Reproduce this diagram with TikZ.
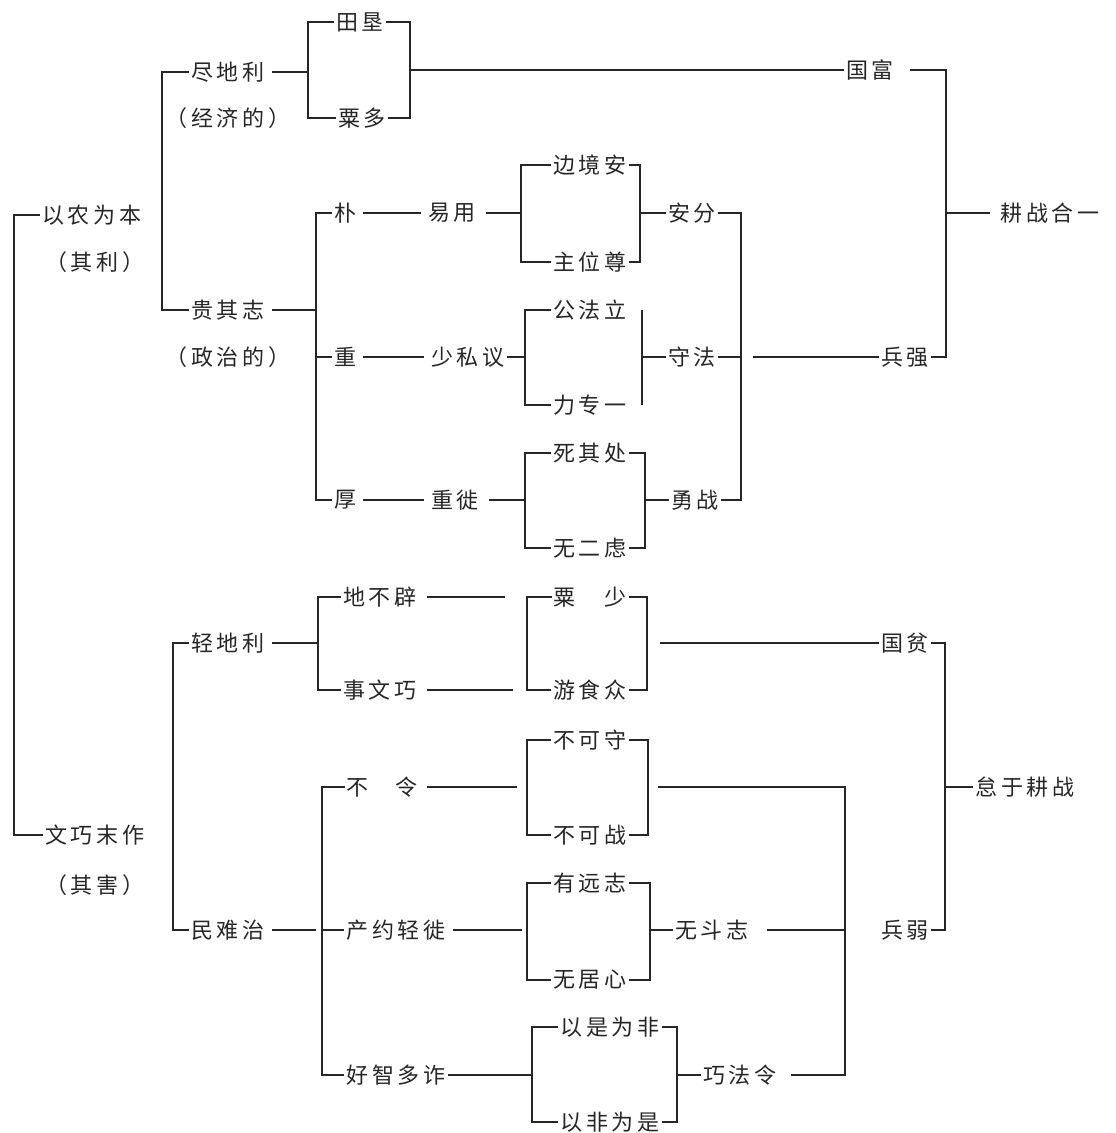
\documentclass[tikz,border=0pt]{standalone}
\usepackage{fontspec}
\newfontfamily\cjk{Noto Sans CJK SC}[LetterSpace=18]
\begin{document}
\begin{tikzpicture}[
    x=1pt, y=-1pt,
    item/.style={
        inner sep=2pt,
        font=\cjk\fontsize{22}{22}\selectfont,
        text=black!85
    },
    line/.style={
        draw=black!85,
        line width=1.6pt
    },
    link/.style={
        line,
        shorten <=5pt,
        shorten >=5pt
    }
  ]
    \useasboundingbox (0,0) rectangle (1116,1133);

    \coordinate (L0) at (14,0);
    \coordinate (L1a) at (162,0);
    \coordinate (L1b) at (173,0);
    \coordinate (A1) at (308,0);
    \coordinate (A2) at (410,0);
    \coordinate (B) at (316,0);
    \coordinate (C1) at (521,0);
    \coordinate (C2) at (640,0);
    \coordinate (D1) at (525,0);
    \coordinate (D2) at (642,0);
    \coordinate (E1) at (525,0);
    \coordinate (E2) at (645,0);
    \coordinate (F) at (741,0);
    \coordinate (G) at (946,0);
    \coordinate (H) at (318,0);
    \coordinate (I1) at (527,0);
    \coordinate (I2) at (647,0);
    \coordinate (J) at (945,0);
    \coordinate (K) at (322,0);
    \coordinate (M1) at (527,0);
    \coordinate (M2) at (648,0);
    \coordinate (N1) at (527,0);
    \coordinate (N2) at (650,0);
    \coordinate (O1) at (532,0);
    \coordinate (O2) at (677,0);
    \coordinate (P) at (845,0);

    \node[item] (nong) at (92,215) {以农为本};
    \node[item] (nongp) at (95,262) {（其利）};
    \node[item] (wen) at (95,835) {文巧末作};
    \node[item] (wenp) at (95,885) {（其害）};

    \node[item] (jin) at (228,72) {尽地利};
    \node[item] (jinp) at (228,118) {（经济的）};
    \node[item] (gui) at (228,310) {贵其志};
    \node[item] (guip) at (228,357) {（政治的）};
    \node[item] (tian) at (360,22) {田垦};
    \node[item] (su) at (362,118) {粟多};
    \node[item] (guofu) at (870,70) {国富};
    \node[item] (bingq) at (905,357) {兵强};
    \node[item] (gengz) at (1050,213) {耕战合一};

    \node[item] (pu) at (345,213) {朴};
    \node[item] (zhong) at (345,357) {重};
    \node[item] (hou) at (345,500) {厚};
    \node[item] (yiyong) at (452,213) {易用};
    \node[item] (shaosi) at (468,357) {少私议};
    \node[item] (zhongxi) at (455,500) {重徙};
    \node[item] (bian) at (590,165) {边境安};
    \node[item] (zhu) at (590,262) {主位尊};
    \node[item] (gong) at (590,310) {公法立};
    \node[item] (lizhuan) at (590,405) {力专一};
    \node[item] (sichu) at (590,453) {死其处};
    \node[item] (wuer) at (590,548) {无二虑};
    \node[item] (anfen) at (692,213) {安分};
    \node[item] (shoufa) at (692,357) {守法};
    \node[item] (yong) at (695,500) {勇战};

    \node[item] (qing) at (228,643) {轻地利};
    \node[item] (min) at (228,930) {民难治};
    \node[item] (dibu) at (380,597) {地不辟};
    \node[item] (shiwen) at (380,690) {事文巧};
    \node[item] (sushao) at (590,597) {粟\hspace{1.3em}少};
    \node[item] (youshi) at (590,690) {游食众};
    \node[item] (guopin) at (905,643) {国贫};
    \node[item] (bingr) at (905,930) {兵弱};
    \node[item] (dai) at (1025,787) {怠于耕战};

    \node[item] (buling) at (382,787) {不\hspace{1.2em}令};
    \node[item] (chan) at (396,930) {产约轻徙};
    \node[item] (hao) at (396,1075) {好智多诈};
    \node[item] (bushou) at (590,740) {不可守};
    \node[item] (buzhan) at (590,835) {不可战};
    \node[item] (youyuan) at (590,883) {有远志};
    \node[item] (wuju) at (590,980) {无居心};
    \node[item] (wudou) at (712,930) {无斗志};
    \node[item] (yishi) at (610,1027) {以是为非};
    \node[item] (yifei) at (610,1122) {以非为是};
    \node[item] (qiaofa) at (740,1075) {巧法令};

    \draw[line] (nong.west) -- (nong.west -| L0) -- (wen.west -| L0) -- (wen.west);
    \draw[line] (jin.west) -- (jin.west -| L1a) -- (gui.west -| L1a) -- (gui.west);
    \draw[line] (qing.west) -- (qing.west -| L1b) -- (min.west -| L1b) -- (min.west);

    \draw[line, shorten <=5pt] (jin.east) -- (jin.east -| A1);
    \draw[line] (tian.west) -- (tian.west -| A1) -- (su.west -| A1) -- (su.west);
    \draw[line] (tian.east) -- (tian.east -| A2) -- (su.east -| A2) -- (su.east);
    \draw[line] (guofu.west -| A2) -- (guofu.west);
    \draw[line] ([xshift=14pt]guofu.east) -- (guofu.east -| G) -- (bingq.east -| G) -- (bingq.east);
    \draw[line] (gengz.west -| G) -- ([xshift=-8pt]gengz.west);

    \draw[line, shorten <=5pt] (gui.east) -- (gui.east -| B);
    \draw[line] (pu.west) -- (pu.west -| B) -- (hou.west -| B) -- (hou.west);
    \draw[line] (zhong.west -| B) -- (zhong.west);
    \draw[link] (pu) -- (yiyong);
    \draw[link] (zhong) -- (shaosi);
    \draw[link] (hou) -- (zhongxi);
    \draw[line, shorten <=8pt] (yiyong.east) -- (yiyong.east -| C1);
    \draw[line] (shaosi.east) -- (shaosi.east -| D1);
    \draw[line, shorten <=8pt] (zhongxi.east) -- (zhongxi.east -| E1);
    \draw[line] (bian.west) -- (bian.west -| C1) -- (zhu.west -| C1) -- (zhu.west);
    \draw[line] (bian.east) -- (bian.east -| C2) -- (zhu.east -| C2) -- (zhu.east);
    \draw[line] (gong.west) -- (gong.west -| D1) -- (lizhuan.west -| D1) -- (lizhuan.west);
    \draw[line] (gong.east -| D2) -- (lizhuan.east -| D2);
    \draw[line] (sichu.west) -- (sichu.west -| E1) -- (wuer.west -| E1) -- (wuer.west);
    \draw[line] (sichu.east) -- (sichu.east -| E2) -- (wuer.east -| E2) -- (wuer.east);
    \draw[line] (anfen.west -| C2) -- (anfen.west);
    \draw[line] (shoufa.west -| D2) -- (shoufa.west);
    \draw[line] (yong.west -| E2) -- (yong.west);
    \draw[line] (anfen.east) -- (anfen.east -| F) -- (yong.east -| F) -- (yong.east);
    \draw[line] (shoufa.east) -- (shoufa.east -| F);
    \draw[line] ([xshift=12pt]shoufa.east -| F) -- (bingq.west);

    \draw[line, shorten <=5pt] (qing.east) -- (qing.east -| H);
    \draw[line] (dibu.west) -- (dibu.west -| H) -- (shiwen.west -| H) -- (shiwen.west);
    \draw[line, shorten <=8pt] (dibu.east) -- ([xshift=-22pt]dibu.east -| I1);
    \draw[line, shorten <=8pt] (shiwen.east) -- ([xshift=-14pt]shiwen.east -| I1);
    \draw[line] (sushao.west) -- (sushao.west -| I1) -- (youshi.west -| I1) -- (youshi.west);
    \draw[line] (sushao.east) -- (sushao.east -| I2) -- (youshi.east -| I2) -- (youshi.east);
    \draw[line] ([xshift=13pt]guopin.west -| I2) -- (guopin.west);
    \draw[line] (guopin.east) -- (guopin.east -| J) -- (bingr.east -| J) -- (bingr.east);
    \draw[line] (dai.west -| J) -- (dai.west);

    \draw[line, shorten <=5pt] (min.east) -- ([xshift=-6pt]min.east -| K);
    \draw[line] (buling.west) -- (buling.west -| K) -- (hao.west -| K) -- (hao.west);
    \draw[line] (chan.west -| K) -- (chan.west);
    \draw[line, shorten <=8pt] (buling.east) -- ([xshift=-10pt]buling.east -| M1);
    \draw[line, shorten <=5pt] (chan.east) -- ([xshift=-5pt]chan.east -| N1);
    \draw[line] (hao.east) -- (hao.east -| O1);
    \draw[line] (bushou.west) -- (bushou.west -| M1) -- (buzhan.west -| M1) -- (buzhan.west);
    \draw[line] (bushou.east) -- (bushou.east -| M2) -- (buzhan.east -| M2) -- (buzhan.east);
    \draw[line] (youyuan.west) -- (youyuan.west -| N1) -- (wuju.west -| N1) -- (wuju.west);
    \draw[line] (youyuan.east) -- (youyuan.east -| N2) -- (wuju.east -| N2) -- (wuju.east);
    \draw[line] (yishi.west) -- (yishi.west -| O1) -- (yifei.west -| O1) -- (yifei.west);
    \draw[line] (yishi.east) -- (yishi.east -| O2) -- (yifei.east -| O2) -- (yifei.east);
    \draw[line] (wudou.west -| N2) -- (wudou.west);
    \draw[line] (qiaofa.west -| O2) -- (qiaofa.west);
    \draw[line] ([xshift=10pt]buling.east -| M2) -- (buling.east -| P) -- (qiaofa.east -| P) -- ([xshift=12pt]qiaofa.east);
    \draw[line] ([xshift=16pt]wudou.east) -- (wudou.east -| P);
\end{tikzpicture}
\end{document}
